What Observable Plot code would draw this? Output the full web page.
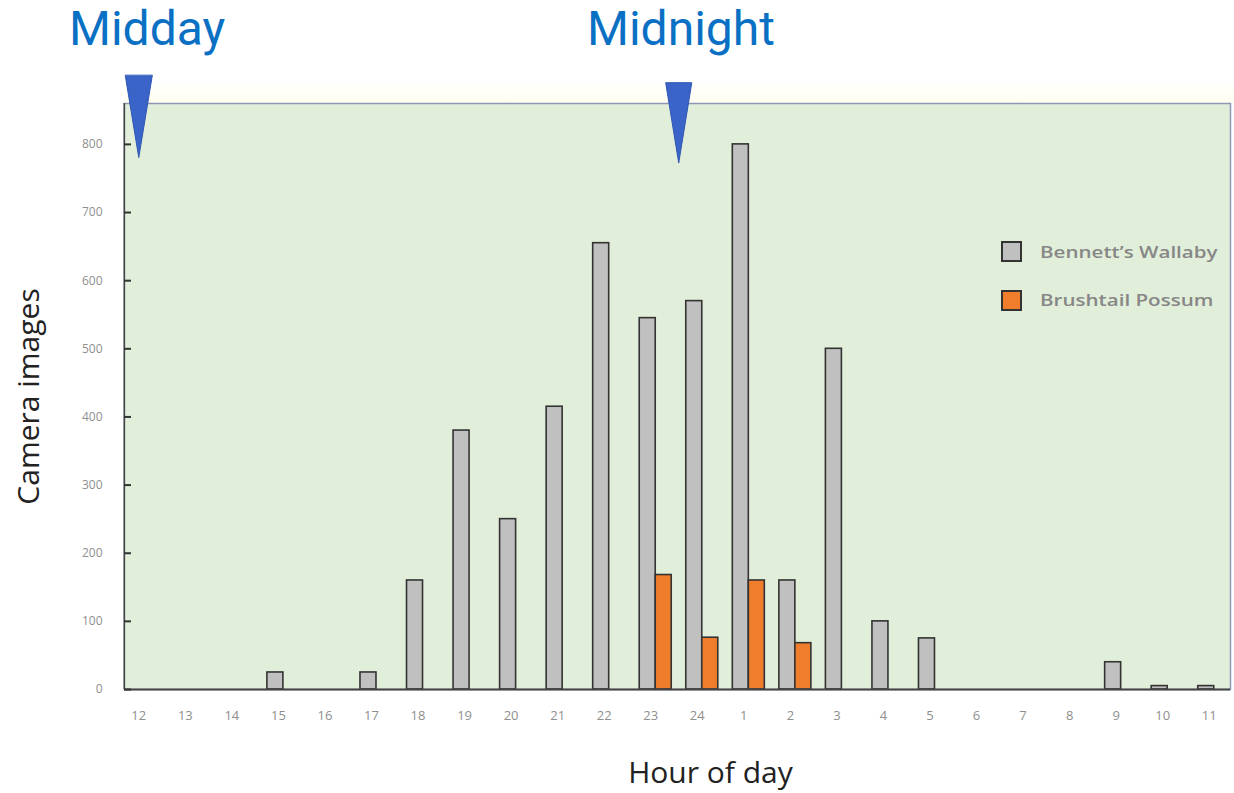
<!DOCTYPE html>
<html>
<head>
<meta charset="utf-8">
<script src="https://cdn.jsdelivr.net/npm/d3@7"></script>
<script src="https://cdn.jsdelivr.net/npm/@observablehq/plot@0.6"></script>
<style>
  body { margin: 0; background: #fff; }
  #wrap { position: relative; width: 1234px; height: 793px; font-family: "Open Sans", "Noto Sans", sans-serif; }
  #wrap svg { position: absolute; left: 0; top: 0; }
  .big { position: absolute; font-family: Roboto, "Open Sans", sans-serif; font-size: 48px; line-height: normal; color: #0a70c4; white-space: nowrap; }
  .leg { position: absolute; font-size: 17px; line-height: 22px; font-weight: 600; color: #878787; white-space: nowrap; transform: scaleX(1.21); transform-origin: left center; }
  .sw { position: absolute; width: 17px; height: 17px; border: 2px solid #333; }
  .glow { position: absolute; left: 124px; top: 78px; width: 1110px; height: 25px; background: linear-gradient(#ffffff, #fffdf0); }
</style>
</head>
<body>
<div id="wrap"><div class="glow"></div></div>
<script>
// ---- data ----
const hours = ["12","13","14","15","16","17","18","19","20","21","22","23","24","1","2","3","4","5","6","7","8","9","10","11"];
const wallaby = [0,0,0,25,0,25,160,380,250,415,655,545,570,800,160,500,100,75,0,0,0,40,5,5];
const possum  = [0,0,0,0,0,0,0,0,0,0,0,168,76,160,68,0,0,0,0,0,0,0,0,0];
const yTicks = [0,100,200,300,400,500,600,700,800];
const seriesNames = ["Bennett\u2019s Wallaby", "Brushtail Possum"];
const markers = [
  {label: "Midday", hour: "12", top: 901},
  {label: "Midnight", hour: "23", top: 890}
];

const wallabyRows = hours.map((h, i) => ({hour: h, count: wallaby[i]})).filter(d => d.count > 0);
const possumRows = hours.map((h, i) => ({hour: h, count: possum[i]})).filter(d => d.count > 0);

const W = 1234, H = 793;
const band = (1237 - 120) / hours.length;

const spikeDown = {
  draw(context, l, r) {
    context.moveTo(-r, 0);
    context.lineTo(0, -l);
    context.lineTo(r, 0);
    context.closePath();
  }
};

const chart = Plot.plot({
  width: W,
  height: H,
  marginLeft: 124,
  marginRight: 4,
  marginTop: 103,
  marginBottom: 104,
  style: {fontFamily: "'Open Sans', 'Noto Sans', sans-serif", background: "transparent", overflow: "visible"},
  x: {type: "band", domain: hours, range: [120, 1237], padding: 0, round: false, axis: null},
  y: {domain: [0, 860], axis: null},
  marks: [
    Plot.frame({fill: "#e1eed9", stroke: "#8e96b8", strokeWidth: 1.5}),
    Plot.barY(wallabyRows, {x: "hour", y: "count", fill: "#c0c0c0", stroke: "#333", strokeWidth: 1.6,
      insetLeft: band / 2 - 16, insetRight: band / 2}),
    Plot.barY(possumRows, {x: "hour", y: "count", fill: "#ef7d2c", stroke: "#333", strokeWidth: 1.6,
      insetLeft: band / 2, insetRight: band / 2 - 16}),
    Plot.ruleY([0], {stroke: "#444", strokeWidth: 2}),
    Plot.ruleX(["12"], {dx: -19.5, stroke: "#444", strokeWidth: 1.5}),
    // y ticks (inside) and labels
    Plot.axisY({ticks: yTicks, tickSize: 7, dx: 7, tickFormat: () => "", label: null, color: "#333", strokeWidth: 2}),
    Plot.axisY({ticks: yTicks, tickSize: 0, tickPadding: 22, label: null, fontSize: 12, color: "#8f8f8f"}),
    // x labels
    Plot.axisX({tickSize: 0, tickPadding: 21, dx: -5, label: null, fontSize: 13, color: "#8f8f8f"}),
    // axis titles
    Plot.text(["Camera images"], {frameAnchor: "left", textAnchor: "middle", dx: -95, rotate: -90, fontSize: 30, fill: "#222"}),
    Plot.text(["Hour of day"], {frameAnchor: "bottom", textAnchor: "middle", lineAnchor: "bottom", dx: 33, dy: 93, fontSize: 30, fill: "#222"}),
    // triangle markers
    Plot.vector(markers.slice(0, 1), {x: "hour", y: "top", length: 82, r: 13.5, shape: spikeDown,
      rotate: 180, anchor: "start", fill: "#3b64c8", stroke: "#2f56b5", strokeWidth: 1, dx: -5}),
    Plot.vector(markers.slice(1), {x: "hour", y: "top", length: 80, r: 13, shape: spikeDown,
      rotate: 180, anchor: "start", fill: "#3b64c8", stroke: "#2f56b5", strokeWidth: 1, dx: 23})
  ]
});

const wrap = document.getElementById("wrap");
wrap.appendChild(chart);

function addDiv(cls, text, left, top, extra) {
  const d = document.createElement("div");
  d.className = cls;
  if (text) d.textContent = text;
  d.style.left = left + "px";
  d.style.top = top + "px";
  Object.assign(d.style, extra || {});
  wrap.appendChild(d);
  return d;
}
addDiv("big", markers[0].label, 69, 0);
addDiv("big", markers[1].label, 587, 0);
addDiv("sw", "", 1001, 241, {background: "#c0c0c0"});
addDiv("leg", seriesNames[0], 1040, 241);
addDiv("sw", "", 1001, 290, {background: "#ef7d2c"});
addDiv("leg", seriesNames[1], 1040, 289);
</script>
</body>
</html>
